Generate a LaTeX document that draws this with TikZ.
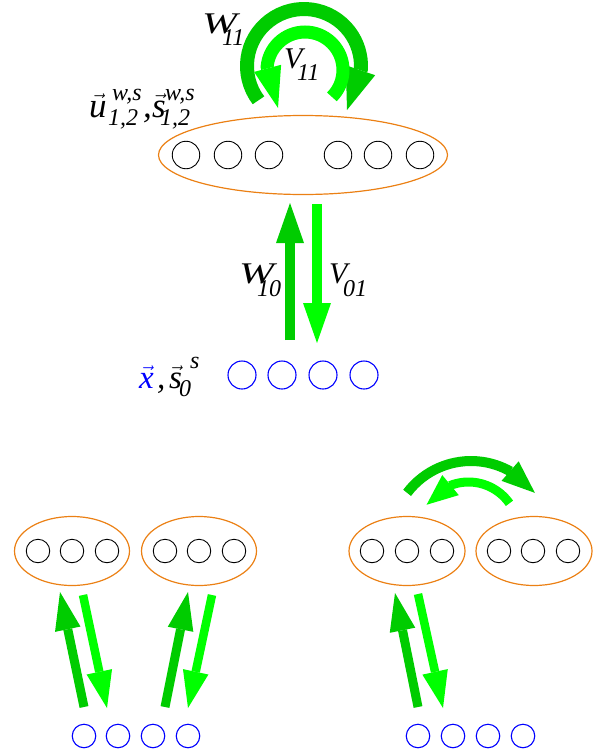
\documentclass[tikz,border=0pt]{standalone}
\usepackage{fontspec}
\setmainfont{Liberation Serif}
\usepackage{amsmath}
\usepackage{graphicx}
\usetikzlibrary{arrows.meta,bending,shapes.geometric}
\definecolor{dkg}{RGB}{0,204,0}
\definecolor{ltg}{RGB}{0,255,0}
\definecolor{org}{RGB}{235,128,20}
\definecolor{blu}{RGB}{0,0,255}
\newcommand\wideW{\scalebox{1.4}[1]{W}}
\begin{document}
\begin{tikzpicture}[x=1pt,y=-1pt,
  unit/.style={circle,draw=black,line width=0.9pt,minimum size=27.5pt,inner sep=0pt},
  sunit/.style={circle,draw=black,line width=0.9pt,minimum size=23.5pt,inner sep=0pt},
  inunit/.style={circle,draw=blu,line width=1.1pt,minimum size=28pt,inner sep=0pt},
  sinunit/.style={circle,draw=blu,line width=1.1pt,minimum size=23.5pt,inner sep=0pt},
  layer/.style={ellipse,draw=org,line width=1.2pt,inner sep=0pt},
  mainlbl/.style={font=\fontsize{30}{30}\selectfont\itshape,inner sep=0pt,anchor=base west},
  veclbl/.style={font=\fontsize{35}{35}\selectfont\itshape,inner sep=0pt,anchor=base west},
  xlbl/.style={font=\fontsize{33}{33}\selectfont\itshape,inner sep=0pt,anchor=base west},
  sublbl/.style={font=\fontsize{24}{24}\selectfont\itshape,inner sep=0pt,anchor=base west},
  darkbig/.style={draw=dkg,line width=10pt,-{Triangle[width=28pt,length=40pt,line width=0pt]}},
  lightbig/.style={draw=ltg,line width=10pt,-{Triangle[width=28pt,length=40pt,line width=0pt]}},
  darksm/.style={draw=dkg,line width=9pt,-{Triangle[width=26pt,length=38pt,line width=0pt]}},
  lightsm/.style={draw=ltg,line width=8.5pt,-{Triangle[width=26pt,length=37pt,line width=0pt]}},
]
\useasboundingbox (0,0) rectangle (595,750);

% ---------- top network ----------
\node[layer,minimum width=289pt,minimum height=79pt] (hid) at (303,155) {};
\foreach \x [count=\i] in {186,228,269,338,378,420}
  \node[unit] (h\i) at (\x,155) {};
\foreach \x [count=\i] in {242,282,323,364}
  \node[inunit] (in\i) at (\x,375) {};

% recurrent arcs
\coordinate (cw) at (304,66);
\coordinate (cv) at (305,70);
\coordinate (w11tip) at (347,110);
\coordinate (v11tip) at (278,108);
\draw[draw=dkg,line width=14pt,-{Triangle[width=31pt,length=42pt,line width=0pt]}]
  ([shift={(143:57)}]cw) arc[start angle=143,end angle=363,radius=57] -- (w11tip);
\draw[draw=ltg,line width=13pt,-{Triangle[width=28pt,length=41pt,line width=0pt]}]
  ([shift={(45:38)}]cv) arc[start angle=45,end angle=-175,radius=38] -- (v11tip);

% vertical arrows
\coordinate (w10a) at (290,340);
\coordinate (w10b) at (290,203);
\coordinate (v01a) at (317,204);
\coordinate (v01b) at (317,343);
\draw[darkbig] (w10a) -- (w10b);
\draw[lightbig] (v01a) -- (v01b);

% labels
\node[mainlbl] (lw11) at (202,33) {\wideW};
\node[sublbl] (lw11s) at (222,45) {11};
\node[mainlbl] (lv11) at (284,68) {V};
\node[sublbl] (lv11s) at (297,80) {11};
\node[mainlbl] (lw10) at (239,283) {\wideW};
\node[sublbl] (lw10s) at (257,296) {10};
\node[mainlbl] (lv01) at (329,283) {V};
\node[sublbl] (lv01s) at (343,296) {01};

\node[veclbl] (lu) at (89,117) {$\vec{\textit{u}}$};
\node[sublbl] (lus) at (112,100) {w,s};
\node[sublbl] (lub) at (108,125) {1,2};
\node[veclbl] (lc1) at (143,117) {,};
\node[veclbl] (ls) at (152,117) {$\vec{\textit{s}}$};
\node[sublbl] (lss) at (165,100) {w,s};
\node[sublbl] (lsb) at (160,125) {1,2};

\node[xlbl,text=blu] (lx) at (139,388) {$\vec{\textit{x}}$};
\node[xlbl] (lc2) at (157,388) {,};
\node[xlbl] (ls0) at (169,388) {$\vec{\textit{s}}$};
\node[sublbl] (ls0s) at (190,368) {s};
\node[sublbl] (ls0b) at (179,396) {0};

% ---------- bottom left ----------
\node[layer,minimum width=115pt,minimum height=69pt] (la) at (72,551) {};
\node[layer,minimum width=115pt,minimum height=69pt] (lb) at (199,551) {};
\foreach \x [count=\i] in {38,72,107,165,199,234}
  \node[sunit] (lh\i) at (\x,551) {};
\foreach \x [count=\i] in {84,118,153,188}
  \node[sinunit] (lin\i) at (\x,736) {};
\coordinate (la1) at (84,707);  \coordinate (la2) at (60,592);
\coordinate (lb1) at (83,595);  \coordinate (lb2) at (107,708);
\coordinate (lc1a) at (165,707); \coordinate (lc2a) at (188,592);
\coordinate (ld1) at (212,595); \coordinate (ld2) at (188,708);
\draw[darksm] (la1) -- (la2);
\draw[lightsm] (lb1) -- (lb2);
\draw[darksm] (lc1a) -- (lc2a);
\draw[lightsm] (ld1) -- (ld2);

% ---------- bottom right ----------
\node[layer,minimum width=116pt,minimum height=69pt] (ra) at (407,551) {};
\node[layer,minimum width=116pt,minimum height=69pt] (rb) at (534,551) {};
\foreach \x [count=\i] in {372,407,442,499,533,568}
  \node[sunit] (rh\i) at (\x,551) {};
\foreach \x [count=\i] in {418,453,488,523}
  \node[sinunit] (rin\i) at (\x,736) {};
\coordinate (ra1) at (418,707); \coordinate (ra2) at (395,593);
\coordinate (rb1) at (418,594); \coordinate (rb2) at (443,708);
\draw[darksm] (ra1) -- (ra2);
\draw[lightsm] (rb1) -- (rb2);
\coordinate (cr1) at (471,541);
\coordinate (cr2) at (468.5,532);
\draw[draw=dkg,line width=10pt,-{Triangle[width=26pt,length=33pt,line width=0pt,flex]}]
  ([shift={(-143:80)}]cr1) arc[start angle=-143,end angle=-37,radius=80];
\draw[draw=ltg,line width=9pt,-{Triangle[width=26pt,length=31pt,line width=0pt,flex]}]
  ([shift={(-35:50)}]cr2) arc[start angle=-35,end angle=-147,radius=50];
\end{tikzpicture}
\end{document}
